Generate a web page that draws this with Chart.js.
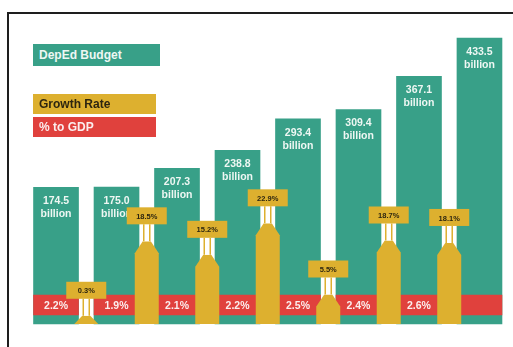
<!DOCTYPE html>
<html lang="en">
<head>
    <meta charset="UTF-8">
    <title>DepEd Budget</title>
    <script src="https://cdn.jsdelivr.net/npm/chart.js"></script>
    <style>
        body {
            margin: 0;
            background: #ffffff;
            font-family: "Liberation Sans", Arial, sans-serif;
        }
        #wrap {
            position: relative;
            width: 513px;
            height: 347px;
            overflow: hidden;
        }
        #frame {
            position: absolute;
            left: 7px;
            top: 12px;
            width: 600px;
            height: 400px;
            border-left: 2px solid #1e1e1e;
            border-top: 2px solid #1e1e1e;
        }
        canvas {
            position: absolute;
            left: 0;
            top: 0;
        }
        .key {
            position: absolute;
            left: 33px;
            font-weight: bold;
            font-size: 12px;
            box-sizing: border-box;
            padding-left: 6px;
        }
        .key.budget { top: 44px; width: 127px; height: 22px; line-height: 22px; background: #38a088; color: #eef7f3; }
        .key.growth { top: 94px; width: 123px; height: 20px; line-height: 20px; background: #ddb02f; color: #2d2610; }
        .key.gdp    { top: 117px; width: 123px; height: 20px; line-height: 20px; background: #e0413d; color: #fbeeee; }
    </style>
</head>
<body>
<div id="wrap">
    <div id="frame"></div>
    <canvas id="budgetChart" width="513" height="347"></canvas>
    <div class="key budget">DepEd Budget</div>
    <div class="key growth">Growth Rate</div>
    <div class="key gdp">% to GDP</div>
</div>

<script>
    // budget per year, in billions
    const budget = [174.5, 175.0, 207.3, 238.8, 293.4, 309.4, 367.1, 433.5];
    // year-on-year growth, in %, sits between two budget bars
    const growthRate = [0.3, 18.5, 15.2, 22.9, 5.5, 18.7, 18.1];
    // share of GDP, in %
    const gdpShare = [2.2, 1.9, 2.1, 2.2, 2.5, 2.4, 2.6];

    const GREEN = '#38a088';
    const YELLOW = '#ddb02f';
    const RED = '#e0413d';

    // axis ranges (budget axis does not start at zero)
    const BUDGET_MIN = -63, BUDGET_MAX = 465;
    const GROWTH_MIN = -1.71, GROWTH_MAX = 72.6;
    const BAND = [2.96, 9.54];

    // budget bars on even slots, growth pins on the odd slots between them
    const slots = [];
    const budgetSlots = [], growthSlots = [], bandSlots = [];
    for (let i = 0; i < budget.length * 2 - 1; i++) {
        slots.push(i % 2 === 0 ? 'B' + (i / 2) : 'G' + ((i - 1) / 2));
        budgetSlots.push(i % 2 === 0 ? budget[i / 2] : null);
        bandSlots.push(i % 2 === 0 ? BAND : null);
        growthSlots.push(i % 2 === 1 ? growthRate[(i - 1) / 2] : null);
    }

    const labelsPlugin = {
        id: 'infoLabels',
        afterDatasetsDraw(chart) {
            const ctx = chart.ctx;
            ctx.save();
            ctx.textAlign = 'center';
            ctx.textBaseline = 'middle';

            // budget values inside the green bars
            chart.getDatasetMeta(0).data.forEach((el, i) => {
                if (budgetSlots[i] == null) return;
                ctx.fillStyle = '#eef7f3';
                ctx.font = 'bold 10.5px "Liberation Sans", Arial, sans-serif';
                ctx.fillText(budgetSlots[i].toFixed(1), el.x, el.y + 14);
                ctx.fillText('billion', el.x, el.y + 27);
            });

            // % to GDP on the red band
            chart.getDatasetMeta(1).data.forEach((el, i) => {
                if (bandSlots[i] == null) return;
                const v = gdpShare[i / 2];
                if (v == null) return;
                ctx.fillStyle = '#fbeeee';
                ctx.font = 'bold 10.5px "Liberation Sans", Arial, sans-serif';
                ctx.fillText(v.toFixed(1) + '%', el.x, (el.y + el.base) / 2 + 1);
            });

            // growth pins: pointed bar, stem and tag
            chart.getDatasetMeta(2).data.forEach((el, i) => {
                if (growthSlots[i] == null) return;
                const cx = el.x, top = el.y, base = el.base, half = el.width / 2;
                const shoulder = Math.min(top + 12, base);
                ctx.fillStyle = YELLOW;
                ctx.beginPath();
                ctx.moveTo(cx - half, base);
                ctx.lineTo(cx - half, shoulder);
                ctx.lineTo(cx - 4, top);
                ctx.lineTo(cx + 4, top);
                ctx.lineTo(cx + half, shoulder);
                ctx.lineTo(cx + half, base);
                ctx.closePath();
                ctx.fill();

                const stem = 17, boxH = 17, boxW = 40;
                ctx.fillStyle = '#ffffff';
                ctx.fillRect(cx - 4, top - stem, 8, stem);
                ctx.strokeStyle = YELLOW;
                ctx.lineWidth = 1.5;
                ctx.beginPath();
                ctx.moveTo(cx - 3, top);
                ctx.lineTo(cx - 3, top - stem);
                ctx.moveTo(cx + 3, top);
                ctx.lineTo(cx + 3, top - stem);
                ctx.stroke();

                ctx.fillStyle = YELLOW;
                ctx.fillRect(cx - boxW / 2, top - stem - boxH, boxW, boxH);
                ctx.fillStyle = '#2d2610';
                ctx.font = 'bold 7.5px "Liberation Sans", Arial, sans-serif';
                ctx.fillText(growthSlots[i].toFixed(1) + '%', cx, top - stem - boxH / 2 + 1);
            });
            ctx.restore();
        }
    };

    new Chart(document.getElementById('budgetChart'), {
        type: 'bar',
        data: {
            labels: slots,
            datasets: [
                {
                    label: 'DepEd Budget',
                    data: budgetSlots,
                    yAxisID: 'y',
                    base: BUDGET_MIN,
                    backgroundColor: GREEN,
                    barThickness: 45,
                    grouped: false,
                    clip: false,
                    order: 3
                },
                {
                    label: '% to GDP',
                    data: bandSlots,
                    yAxisID: 'yBand',
                    backgroundColor: RED,
                    barThickness: 45,
                    grouped: false,
                    clip: false,
                    order: 2
                },
                {
                    label: 'Growth Rate',
                    data: growthSlots,
                    yAxisID: 'yGrowth',
                    base: GROWTH_MIN,
                    backgroundColor: 'rgba(0,0,0,0)',
                    barThickness: 24,
                    grouped: false,
                    clip: false,
                    order: 1
                }
            ]
        },
        options: {
            responsive: false,
            animation: false,
            layout: {
                padding: { left: 40.9, right: 18.4, top: 20, bottom: 23 }
            },
            scales: {
                x: { display: false, offset: true },
                y: { display: false, min: BUDGET_MIN, max: BUDGET_MAX },
                yGrowth: { display: false, min: GROWTH_MIN, max: GROWTH_MAX },
                yBand: { display: false, min: 0, max: 100 }
            },
            plugins: {
                legend: { display: false },
                tooltip: { enabled: false }
            }
        },
        plugins: [labelsPlugin]
    });
</script>
</body>
</html>
